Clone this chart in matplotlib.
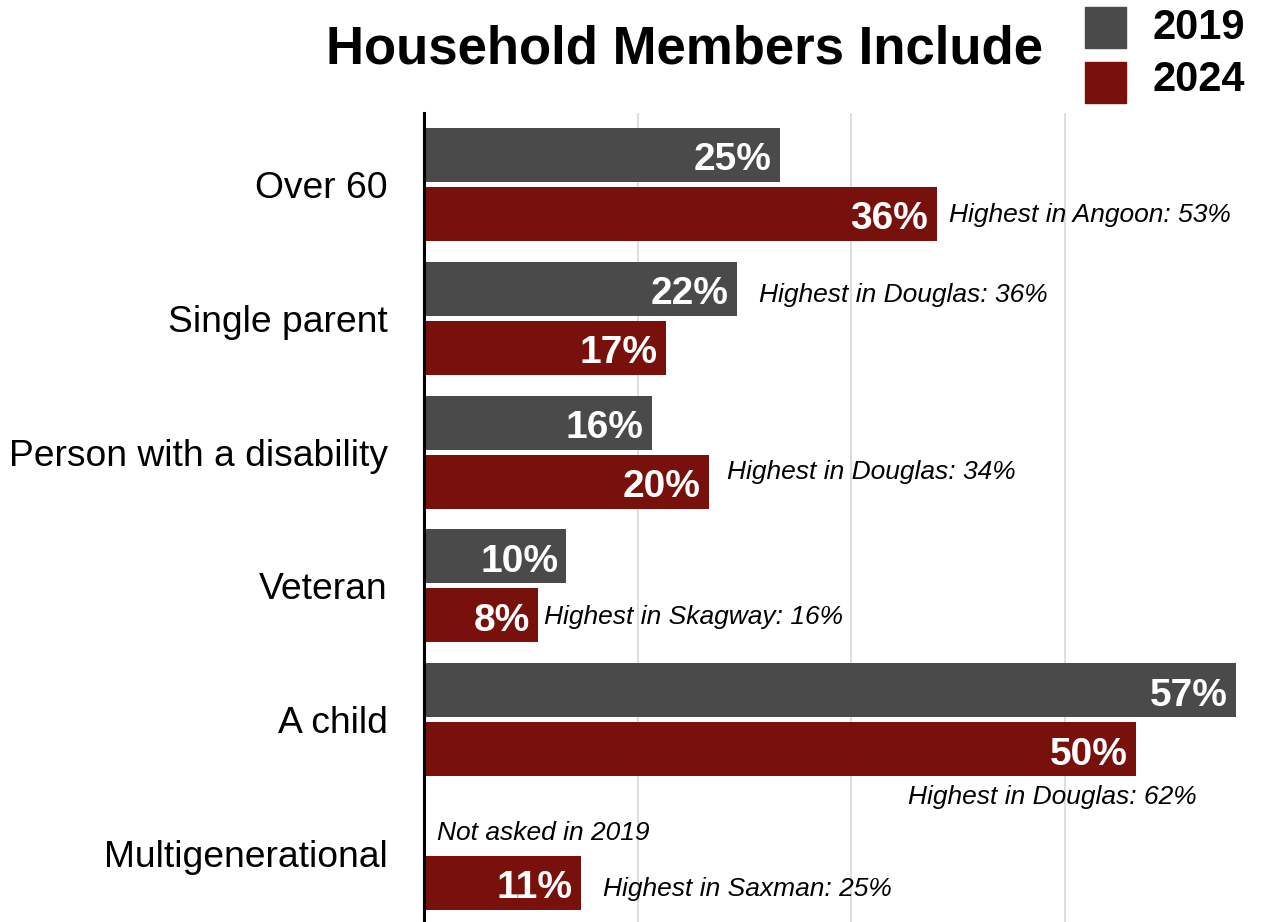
import matplotlib.pyplot as plt
from matplotlib.patches import Rectangle
import numpy as np

plt.rcParams['font.family'] = ['Liberation Sans', 'DejaVu Sans']

categories = ["Over 60", "Single parent", "Person with a disability",
              "Veteran", "A child", "Multigenerational"]
y2019 = [25, 22, 16, 10, 57, np.nan]
y2024 = [36, 17, 20, 8, 50, 11]

# side notes: text, x (%), baseline y (category units)
notes = [
    ("Highest in Angoon: 53%", 36.9, 0.278),
    ("Highest in Douglas: 36%", 23.5, 0.876),
    ("Highest in Douglas: 34%", 21.3, 2.204),
    ("Highest in Skagway: 16%", 8.4, 3.287),
    ("Highest in Douglas: 62%", 34.0, 4.633),
    ("Not asked in 2019", 0.9, 4.899),
    ("Highest in Saxman: 25%", 12.6, 5.318),
]

c19 = "#4a4a4a"
c24 = "#78100b"

W, H = 1276, 922
fig = plt.figure(figsize=(W / 100, H / 100), dpi=100)
ax = fig.add_axes([424 / W, 0, 1 - 424 / W, (H - 113) / H])

pos = np.arange(len(categories))
bh = 0.404
off = 0.2205

ax.barh(pos - off, y2019, height=bh, color=c19, zorder=2)
ax.barh(pos + off, y2024, height=bh, color=c24, zorder=2)

for i, (a, b) in enumerate(zip(y2019, y2024)):
    for v, yy in ((a, i - off), (b, i + off)):
        if np.isnan(v):
            continue
        ax.annotate(f"{v:.0f}%", (v, yy + 0.115), xytext=(-6, 0),
                    textcoords="offset points", ha="right", va="baseline",
                    color="white", fontsize=28, fontweight="bold", zorder=3)

for txt, x, y in notes:
    ax.text(x, y, txt, ha="left", va="baseline", fontsize=19,
            style="italic", color="black", zorder=3)

ax.set_xlim(0, (W - 424) / 14.24)
ax.set_ylim(5.512, -0.534)
ax.set_xticks([15, 30, 45])
ax.set_xticklabels([])
ax.tick_params(axis="x", length=0)
ax.grid(axis="x", color="#d4d4d4", linewidth=1.1, zorder=0)
ax.set_yticks(pos)
ax.set_yticklabels(categories, fontsize=26.8)
ax.tick_params(axis="y", length=0, pad=26)

for s in ("top", "right", "bottom"):
    ax.spines[s].set_visible(False)
ax.spines["left"].set_linewidth(2.2)
ax.spines["left"].set_color("black")
ax.spines["left"].set_zorder(4)

fig.text(685 / W, 1 - 63 / H, "Household Members Include", ha="center",
         va="baseline", fontsize=38, fontweight="bold")

# legend squares
for yy, col, lab, base in ((7, c19, "2019", 39), (62, c24, "2024", 91)):
    fig.add_artist(Rectangle((1085 / W, 1 - (yy + 41) / H), 41 / W, 41 / H,
                             transform=fig.transFigure, color=col))
    fig.text(1153 / W, 1 - base / H, lab, ha="left", va="baseline",
             fontsize=30, fontweight="bold")

fig.savefig("out.png", dpi=100)
